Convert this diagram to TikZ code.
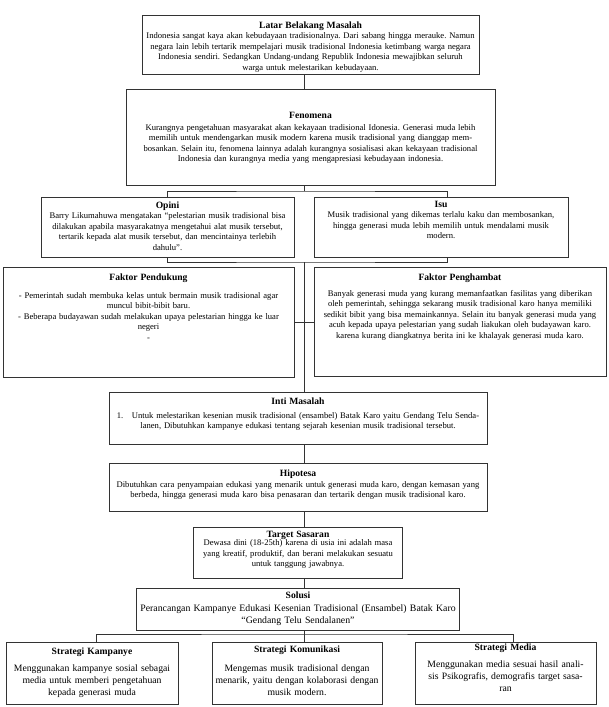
\documentclass[tikz,border=0pt]{standalone}
\usepackage{fontspec}
\setmainfont{Liberation Serif}
\usetikzlibrary{positioning}
\frenchspacing
\newcommand{\judul}[1]{{\fontsize{9.6}{10.5}\selectfont\bfseries #1}}

\begin{document}
\begin{tikzpicture}[x=1pt, y=-1pt,
    block/.style={rectangle, draw=black!80, line width=0.9pt, fill=white, anchor=north, align=center, inner xsep=0.5pt, inner ysep=3pt, font=\fontsize{8.6}{10.5}\selectfont},
    wide/.style={font=\fontsize{9.7}{12}\selectfont},
    line/.style={draw, black!80, line width=0.9pt}
]
    \useasboundingbox (0,0) rectangle (608,707);

    % Latar belakang & fenomena
    \node [block, text width=336pt, text height=10pt, text depth=43pt] (latar) at (310.5,15) {\judul{Latar Belakang Masalah}\\
        Indonesia sangat kaya akan kebudayaan tradisionalnya. Dari sabang hingga merauke. Namun\\
        negara lain lebih tertarik mempelajari musik tradisional Indonesia ketimbang warga negara\\
        Indonesia sendiri. Sedangkan Undang-undang Republik Indonesia mewajibkan seluruh\\
        warga untuk melestarikan kebudayaan.};
    \node [block, below=14pt of latar, text width=368pt, text height=26pt, text depth=64pt] (fenomena) {\judul{Fenomena}\\[1.5pt]
        Kurangnya pengetahuan masyarakat akan kekayaan tradisional Idonesia. Generasi muda lebih\\
        memilih untuk mendengarkan musik modern karena musik tradisional yang dianggap mem-\\
        bosankan. Selain itu, fenomena lainnya adalah kurangnya sosialisasi akan kekayaan tradisional\\
        Indonesia dan kurangnya media yang mengapresiasi kebudayaan indonesia.};

    % Opini & isu
    \node [block, text width=252pt, text height=8pt, text depth=46pt] (opini) at (167.5,197) {\judul{Opini}\\
        Barry Likumahuwa mengatakan “pelestarian musik tradisional bisa\\
        dilakukan apabila masyarakatnya mengetahui alat musik tersebut,\\
        tertarik kepada alat musik tersebut, dan mencintainya terlebih\\
        dahulu”.};
    \node [block, text width=253pt, text height=7pt, text depth=47pt] (isu) at (441,197) {\judul{Isu}\\
        Musik tradisional yang dikemas terlalu kaku dan membosankan,\\
        hingga generasi muda lebih memilih untuk mendalami musik\\
        modern.};

    % Faktor
    \node [block, text width=290pt, text height=10pt, text depth=94pt] (pendukung) at (148.5,267) {\judul{Faktor Pendukung}\\[7.5pt]
        - Pemerintah sudah membuka kelas untuk bermain musik tradisional agar\\
        muncul bibit-bibit baru.\\
        - Beberapa budayawan sudah melakukan upaya pelestarian hingga ke luar\\
        negeri\\
        -};
    \node [block, text width=291pt, text height=10pt, text depth=93pt] (penghambat) at (460,267) {\judul{Faktor Penghambat}\\[5.5pt]
        Banyak generasi muda yang kurang memanfaatkan fasilitas yang diberikan\\
        oleh pemerintah, sehingga sekarang musik tradisional karo hanya memiliki\\
        sedikit bibit yang bisa memainkannya. Selain itu banyak generasi muda yang\\
        acuh kepada upaya pelestarian yang sudah liakukan oleh budayawan karo.\\
        karena kurang diangkatnya berita ini ke khalayak generasi muda karo.};

    % Inti masalah sampai solusi
    \node [block, text width=377pt, text height=9pt, text depth=37pt] (inti) at (298,392) {\judul{Inti Masalah}\\[3.5pt]
        1.\quad Untuk melestarikan kesenian musik tradisional (ensambel) Batak Karo yaitu Gendang Telu Senda-\\
        lanen, Dibutuhkan kampanye edukasi tentang sejarah kesenian musik tradisional tersebut.};
    \node [block, below=18pt of inti, text width=377pt, text height=10pt, text depth=32pt] (hipotesa) {\judul{Hipotesa}\\[0.5pt]
        Dibutuhkan cara penyampaian edukasi yang menarik untuk generasi muda karo, dengan kemasan yang\\
        berbeda, hingga generasi muda karo bisa penasaran dan tertarik dengan musik tradisional karo.};
    \node [block, below=15pt of hipotesa, text width=208pt, text height=7pt, text depth=38pt] (target) {\judul{Target Sasaran}\\[-2pt]
        Dewasa dini (18-25th) karena di usia ini adalah masa\\
        yang kreatif, produktif, dan berani melakukan sesuatu\\
        untuk tanggung jawabnya.};
    \node [block, below=9pt of target, text width=322pt, text height=7pt, text depth=29pt, font=\fontsize{9.8}{12}\selectfont] (solusi) {\judul{Solusi}\\[1pt]
        Perancangan Kampanye Edukasi Kesenian Tradisional (Ensambel) Batak Karo\\
        “Gendang Telu Sendalanen”};

    % Strategi
    \node [block, wide, text width=171pt, text height=9pt, text depth=47pt] (kampanye) at (92,642) {\judul{Strategi Kampanye}\\[5pt]
        Menggunakan kampanye sosial sebagai\\
        media untuk memberi pengetahuan\\
        kepada generasi muda};
    \node [block, wide, text width=169pt, text height=7pt, text depth=49pt] (komunikasi) at (297,642) {\judul{Strategi Komunikasi}\\[7.5pt]
        Mengemas musik tradisional dengan\\
        menarik, yaitu dengan kolaborasi dengan\\
        musik modern.};
    \node [block, wide, text width=180pt, text height=5pt, text depth=51pt] (media) at (505.5,642) {\judul{Strategi Media}\\[5.5pt]
        Menggunakan media sesuai hasil anali-\\
        sis Psikografis, demografis target sasa-\\
        ran};

    % Connections
    \coordinate (spine) at (304,0);
    \coordinate (split1) at (304,191);
    \coordinate (join1) at (304,262);
    \coordinate (split2) at (304,634);

    \path [line] (latar.south -| spine) -- (fenomena.north -| spine);
    \path [line] (fenomena.south -| spine) -- (split1);
    \path [line] (opini.north) |- (split1) -| ([xshift=6pt]isu.north);
    \path [line] (opini.south) |- (join1) -| ([xshift=6pt]isu.south);
    \path [line] (join1) -- (inti.north -| join1);
    \path [line] (pendukung.east) -- (penghambat.west |- pendukung.east);
    \path [line] (inti.south -| spine) -- (hipotesa.north -| spine);
    \path [line] (hipotesa.south -| spine) -- (target.north -| spine);
    \path [line] (target.south -| spine) -- (solusi.north -| spine);
    \path [line] (solusi.south -| spine) -- (split2);
    \path [line] ([xshift=4pt]kampanye.north) |- (split2) -| ([xshift=8pt]media.north);
    \path [line] (split2) -- (komunikasi.north -| split2);

\end{tikzpicture}
\end{document}
